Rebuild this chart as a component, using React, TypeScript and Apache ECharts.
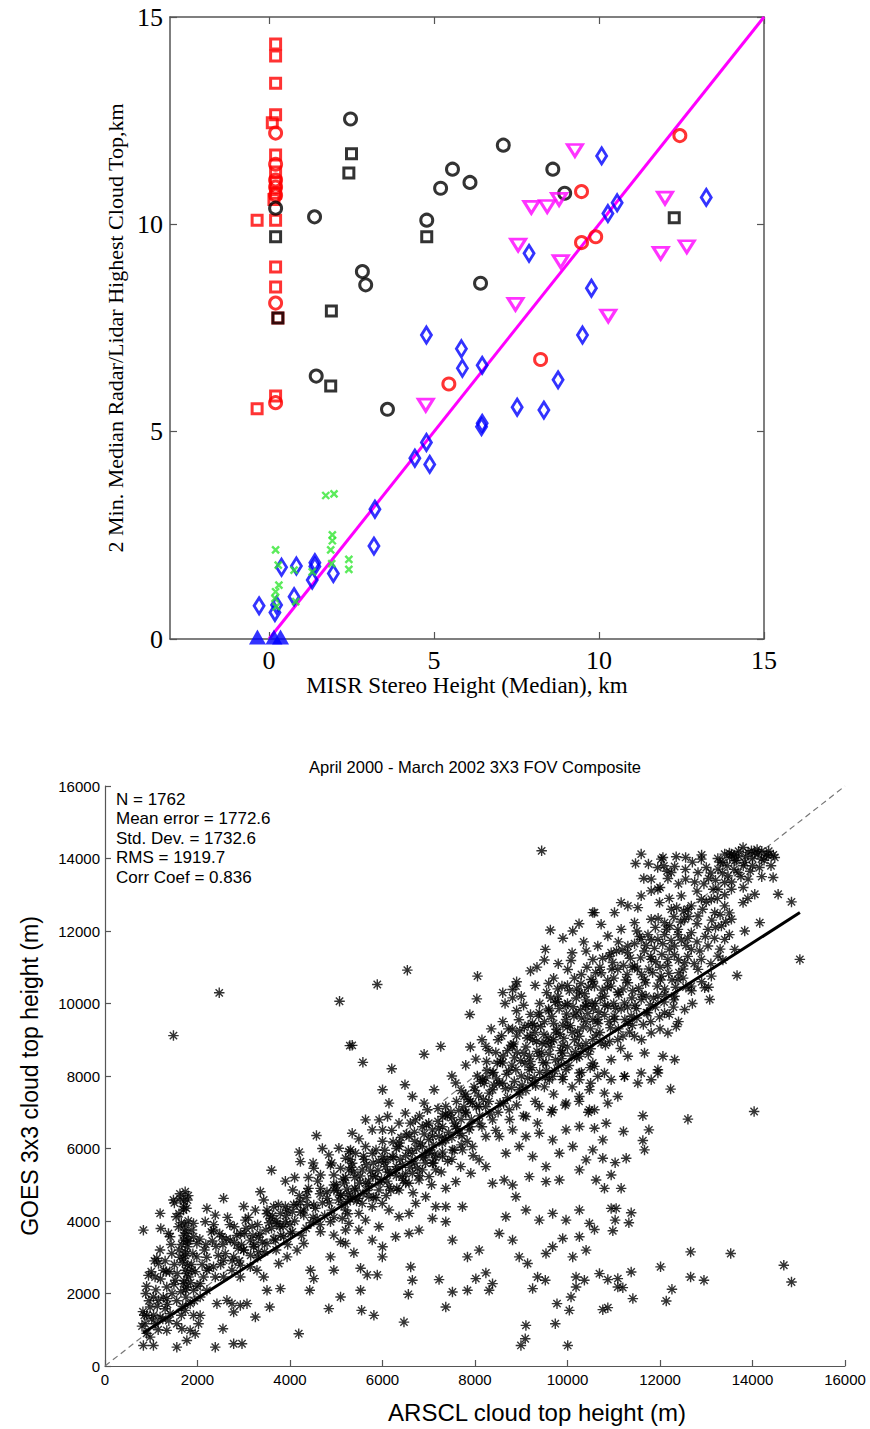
import React, { useEffect, useRef } from "react";
import * as echarts from "echarts";

// ---------- Top panel data (km) ----------
const redSquares = [[0.2,14.35],[0.2,14.06],[0.2,13.4],[0.2,12.64],[0.1,12.45],[0.2,11.67],[0.2,11.26],[0.2,11.0],[0.2,10.75],[0.15,10.6],[-0.36,10.1],[0.2,10.1],[0.2,8.97],[0.2,8.49],[0.27,7.74],[-0.36,5.55],[0.2,5.86]];
const redCircles = [[0.2,12.2],[0.2,11.45],[0.2,11.07],[0.2,10.9],[0.2,10.7],[0.2,8.1],[0.2,5.7],[12.45,12.14],[9.47,10.79],[9.47,9.56],[9.9,9.7],[8.23,6.74],[5.45,6.15]];
const blackCircles = [[2.47,12.54],[5.56,11.33],[5.2,10.87],[6.09,11.01],[4.78,10.1],[1.38,10.18],[0.2,10.39],[2.83,8.86],[2.93,8.54],[6.41,8.58],[7.1,11.91],[8.6,11.33],[8.96,10.75],[1.43,6.34],[3.59,5.54]];
const blackSquares = [[2.5,11.7],[2.42,11.24],[0.2,9.7],[4.78,9.7],[1.89,7.91],[0.27,7.74],[1.87,6.1],[12.28,10.16]];
const magentaTriangles = [[9.27,11.78],[7.95,10.41],[8.43,10.43],[8.79,10.6],[7.55,9.5],[8.84,9.1],[7.47,8.07],[10.28,7.79],[12.0,10.63],[11.87,9.3],[12.66,9.46],[4.75,5.64]];
const blueDiamonds = [[10.08,11.65],[10.55,10.52],[10.27,10.26],[13.25,10.65],[7.88,9.3],[9.77,8.46],[9.5,7.33],[4.77,7.33],[5.83,7.0],[5.86,6.53],[6.46,6.6],[8.76,6.25],[7.52,5.59],[8.33,5.52],[6.46,5.2],[6.44,5.12],[4.77,4.74],[4.42,4.36],[4.87,4.21],[3.21,3.13],[3.18,2.24],[1.39,1.84],[0.83,1.76],[0.38,1.73],[1.31,1.42],[1.95,1.58],[0.76,1.02],[-0.3,0.8],[0.23,0.82],[0.18,0.64],[1.39,1.75]];
const blueTriangles = [[-0.35,0.05],[0.15,0.05],[0.35,0.05]];
const greenCrosses = [[0.2,2.15],[0.28,1.78],[0.76,1.66],[0.3,1.3],[0.2,1.14],[0.18,0.98],[0.81,0.9],[1.72,3.46],[1.97,3.5],[1.92,2.51],[1.92,2.37],[1.87,2.15],[1.9,1.82],[1.31,1.62],[2.42,1.92],[2.42,1.68],[0.22,0.78]];
const oneToOneTop = [[0,0],[15,15]];
const topXTicks = [0,5,10,15];

// ---------- Bottom panel data (m) ----------
const goesPoints = [
[830,3748],[1192,4210],[1206,3795],[1372,3657],[1408,3565],[1120,2965],[1156,2827],[1083,2456],[1264,2640],[1444,3103],[1517,2365],[1336,2180],[1047,1903],[1156,1811],[1336,1858],[1300,1580],[975,1626],[903,1396],[867,1166],[1083,1166],[1192,1350],[1408,1442],[1553,1166],[1336,982],[1661,1028],[1842,982],[1553,520],[1770,705],[830,567],[1047,567],[975,797],
[1734,3886],[1770,3657],[1697,3473],[1784,3288],[1734,3150],[1697,2965],[1784,2781],[1734,2643],[1806,2456],[1697,2272],[1625,4625],[1734,4808],[1480,4579],[1784,4579],[1697,4301],[1538,4117],[1914,3565],[1986,3380],[1914,3934],[1589,3840],[1986,3010],[1878,2643],[2058,2272],[1914,2088],[1842,1720],[1734,1535],[1914,1396],[2022,1166],[1950,890],[2058,1396],
[2203,4348],[2384,4163],[2167,3980],[2564,4625],[2347,3750],[2528,3565],[2709,3473],[2795,3842],[3034,4025],[2926,3657],[3142,3473],[3359,4808],[3431,4579],[3503,4301],[3648,4394],[3792,4210],[3937,4301],[3576,4071],[3720,3934],[3901,3980],[4059,4854],[3214,3288],[2998,3196],[3322,3150],[3503,3380],[3684,3473],[3865,3565],[4009,3657],[2782,3010],[2564,2919],[2347,2735],[2203,2643],[2131,2456],[2384,2456],[2564,2456],[2745,2643],[2926,2781],[3142,2735],[2926,2456],[2058,1903],[2203,2088],[1770,2180],[2420,1720],[2636,1811],[2745,1720],[2926,1672],[3070,1720],[2782,1488],[3286,2643],[3431,2456],[3792,2134],[3503,2088],[3251,1350],[3560,1626],[2550,1029],[2384,520],[2782,614],[2962,614],[4189,891],[3756,2827],[3937,3010],[4153,3196],[4298,3380],[4427,2088],[4514,2410],[4442,2643],[4839,1582],[4948,2643],[5093,1903],[4875,3010],
[4225,5639],[4514,5454],[4659,5270],[4875,5546],[4948,5270],[5093,5454],[5201,5731],[5273,5915],[4948,4993],[4659,4901],[4370,4808],[4225,4530],[4514,4440],[4803,4625],[5093,4717],[5237,4530],[4298,4163],[4587,4071],[4875,3980],[5129,4071],[4659,3703],[4948,3611],[5201,3750],[5093,3428],[4839,5824],[5057,6008],[4572,6357],
[6486,7759],[6646,7436],[5489,6265],[6001,6514],[6109,6883],[5928,6791],[6493,6975],[6710,6791],[6970,7067],[7296,6883],[7584,7805],[7116,7621],[6900,7251],[7368,7159],[7765,7436],[7945,7251],[8162,7897],[8306,7528],[8523,7805],[8090,6699],[7873,6514],[7657,6422],[7368,6237],[7512,5962],[7296,5778],[7080,5593],[6862,5409],[6646,5316],[6429,5224],[6284,5409],[6067,5500],[5850,5224],[5633,5040],[5417,4856],[5345,5593],[5273,5409],[5561,5409],[5778,5870],[5633,6054],[5417,5870],[5309,5962],[5345,4670],[5561,4487],[5778,4395],[5995,4487],[6140,4302],[6357,4118],[6574,4210],[5633,4025],[5922,3841],[5489,3749],[5778,3473],[5381,3123],[5996,3010],[6284,3565],[6574,3657],[6790,3749],[6718,4487],[6934,4670],[7152,4395],[7368,4395],[7080,4071],[7368,3980],[7729,4395],[7584,5086],[7368,4901],[7909,5316],[8090,5685],[8235,5500],[8379,5040],[8632,5132],[8812,4994],[8884,4670],[9173,5224],[9535,5086],[9824,5132],[8667,5870],[8956,6054],[9245,5778],[9535,5500],[9824,5870],[10113,6054],[10257,5409],[10402,5685],[10547,5962],[9101,6330],[9390,6422],[9679,6237],[9968,6514],[10257,6606],[8812,6514],[8523,6330],[8379,6791],[8740,7067],[9101,6883],[9390,7159],[9679,7067],[9968,7251],[10257,7436],[10474,7067],[8956,7621],[9245,7805],[9607,7897],[9896,7989],[10257,7897],[10474,7621],
[8523,3657],[7512,3473],[7837,3010],[8090,3196],[8812,3473],[8956,3010],[9137,2827],[9535,3103],[9679,3288],[9896,3519],[8667,4118],[9101,4302],[9390,4025],[9679,4210],[9968,4025],[10257,4302],[10474,3934],[10257,3565],[10402,3196],[10113,3010],[7223,2384],[6610,2733],[6646,2365],[6559,1978],[7512,2041],[7368,1626],[6464,1211],[5548,1535],[5814,1397],[5526,2088],[5526,2697],[5670,2513],[5887,2513],[7837,2088],[8018,2410],[8235,2568],[8379,2272],[8306,2088],[9101,1120],[9086,752],[8993,567],[9736,1167],[10005,567],[10040,1535],[9773,1720],[9246,2135],[9354,2456],[9520,2365],[10185,2456],[10365,2365],[10185,2180],[10076,1903],[6001,3288],[5200,3380],
[5489,4210],[5200,4302],[5273,3934],[5706,4670],[5922,4856],[6140,4948],[6357,4856],[6574,5040],[6790,5132],[7007,5224],[7152,5409],[7007,5870],[7224,6330],[7584,6606],[7801,6975],[8090,7159],[8235,6330],[7729,5962],[7945,6054],[6574,6330],[6357,6054],[6212,5778],[6001,5778],[6646,5870],[6862,6054],[7080,6514],[6357,6699],[5778,6514],[5633,6791],[5345,6422],[6140,7251],[6001,7621],
[9441,14212],[6537,10920],[5887,10525],[8054,10755],[8040,10128],[7888,9695],[8812,10386],[8884,10478],[8812,10156],[9340,11003],[9521,11492],[9629,12026],[10113,11999],[10547,12507],[5345,8846],[5576,8376],[7260,8816],[8235,8816],[8018,8466],[8575,9111],[8812,9295],[9065,9341],[9281,9387],[8812,8816],[9593,10552],[9787,10404],[9736,10035],[10005,10939],[10076,11188],[10402,11446],[10547,11215],[10510,10662],[10257,10294],[10402,9926],[10185,9741],[9968,9557],[9751,9188],[9535,8911],[9390,8543],[9173,8174],[9535,8359],[9896,8636],[10257,9096],[10547,9557],[10547,9004],[10257,8543],[9968,8174],[9679,7989],[10257,8082],[10547,8359],[8595,8359],[8884,8174],[8379,8082],[8235,7943],
[11593,14121],[11471,13863],[12063,14029],[12085,13798],[12316,13780],[12554,14029],[12554,13430],[12171,13448],[12894,13982],[13002,13752],[12822,13614],[13399,14121],[13507,14029],[13616,13937],[13544,14121],[13688,14075],[13796,14305],[13905,14167],[13977,14213],[14121,14121],[14338,14075],[14482,14029],[14193,13982],[13832,13890],[13363,13890],[13255,13706],[13471,13522],[13688,13614],[13905,13430],[13399,13338],[14446,13476],[14554,13015],[14843,12803],[15024,11216],[13666,10774],[13075,10110],[12966,10433],[11810,13107],[11160,12784],[10583,12507],[10727,12184],[11016,12507],[11521,12646],[11990,12784],[13796,12784],[14049,13015],[14157,12231],[13832,12000],[13544,13153],[13255,13153],[13110,12876],[12316,8450],[12063,8543],[12352,9365],[12894,12876],[12677,12692],[12460,12969],[12244,12600],[12533,12323],[12822,12415],[13183,12507],[13399,12692],[13544,12323],[13327,12138],[13038,12046],[12677,11954],[12388,12046],[12099,12231],[11810,12323],[11449,12231],[11160,12046],[10872,11862],[10655,11585],[10944,11401],[11305,11585],[11593,11770],[11955,11770],[12316,11585],[12677,11493],[13038,11585],[13399,11770],[13616,11493],[13255,11308],[12894,11216],[12533,11124],[12171,11216],[11810,11216],[11449,11032],[11088,10940],[10727,10847],[10583,10479],[10944,10479],[11305,10571],[11665,10663],[12027,10755],[12388,10663],[12677,10479],[12316,10202],[11955,10202],[11593,10110],[11232,10017],[10872,9925],[10655,9557],[11016,9557],[11377,9649],[11738,9741],[12099,9741],[12533,9833],[12171,9188],[11810,9188],[11449,9096],[11088,9004],[10727,8911],[10944,8450],[11305,8543],[11665,8636],[11955,8174],[11593,8082],[11232,7989],[10799,8082],[10583,8266],[12822,10940],[13110,10755],[12027,13982],[12244,13614],[11810,13430],[11955,13153],[11593,12969],[11305,12692],
[12229,7639],[12604,6810],[14035,7021],[11629,6903],[11760,6514],[11210,6468],[11629,6219],[11665,5961],[10763,6237],[10835,6698],[10583,6560],[10763,5731],[11269,5731],[11030,5610],[10944,5270],[10618,5131],[10799,4901],[11160,4901],[10944,4348],[11052,4348],[11377,4226],[11327,3950],[11030,4025],[10980,3729],[10583,3767],[12662,3148],[13529,3103],[14677,2779],[14843,2318],[12012,2735],[12662,2456],[12951,2365],[12258,2116],[12135,1792],[11413,1859],[11377,2595],[10691,2549],[10872,2383],[11088,2411],[11088,2180],[11196,2162],[10763,1554],[10872,1610],[10655,7989],[10944,7897],[11232,7989],[11521,7805],[10799,7528],[11088,7436],[11810,7897],[11955,8082],[10583,7067],[10872,7251],
[2470,10295],[1480,9114],[5071,10063],[5294,8838],[6200,8200],[6900,8600],[7500,8000],[7800,8300],[3600,5400],[4200,5900],[4700,6000],[3900,5100],[4400,5200],
[8100,6900],[8300,7300],[8500,7000],[8700,7400],[8900,7200],[9100,7600],[9300,7300],[9500,7700],[9700,7500],[9900,7900],[10100,7700],[10300,8100],[10500,7800],[8200,7800],[8400,8100],[8600,7800],[8800,8300],[9000,8000],[9200,8400],[9400,8100],[9600,8600],[9800,8300],[10000,8800],[10200,8500],[10400,8900],[8300,8700],[8500,9000],[8700,8700],[8900,9100],[9100,8800],[9300,9200],[9500,9500],[9700,9000],[9900,9400],[10100,9200],[10300,9600],[10500,9300],[8600,9500],[8900,9800],[9200,9700],[9400,10000],[9600,9800],[9800,10200],[10000,10000],[10200,10400],[10400,10100],[9000,10200],[9300,10500],[9700,10700],[10000,10500],[10300,10800],[8000,7600],[7800,7000],[8150,6600],[8450,6500],[8750,6800],[9050,6900],[9350,6700],[9650,7000],[9950,7200],[10250,7300],[10450,7000],[8050,8000],[7700,7600],[7900,8800],[8350,9300],[8150,9000],[8650,10000],[9150,9400],[9450,8900],[9850,8700],[10150,9000],[10450,8600],[10550,10600],[10400,9500],[9550,10300],[9250,9000],[8850,8500],[8550,8400],[8250,8400],
[10700,9200],[10900,9500],[11100,9300],[11300,9900],[11500,9600],[11700,10200],[11900,9900],[12100,10400],[12300,10100],[12500,10700],[10800,10200],[11000,10700],[11200,10400],[11400,11000],[11600,10800],[11800,11300],[12000,11000],[12200,11500],[12400,11200],[12600,11800],[10700,11000],[10900,11300],[11100,11700],[11300,11400],[11500,12000],[11700,11600],[11900,12100],[12100,11900],[12300,12400],[10600,10000],[10800,9700],[11000,10000],[11200,9100],[11400,9400],[11600,9000],[11800,9500],[12000,9300],[12200,9700],[12400,9500],[12700,10000],[12900,10600],[13100,11100],[13300,11500],[13500,11900],[13200,12100],[12800,11700],[12600,11300],
[12600,12600],[12800,13100],[13000,12800],[13200,13400],[13400,13000],[13600,13700],[13800,13200],[14000,13800],[14200,13500],[14300,14100],[13100,13600],[12700,13900],[12900,14100],[13300,13900],[13700,14200],[14100,14250],[14400,13800],[13900,12900],[13500,12500],[12400,13300],[12200,12900],[12000,13200],
[6100,5700],[6300,6000],[6500,5800],[6700,6200],[6900,6400],[7100,6100],[7300,6600],[7500,6300],[7700,6800],[7900,6600],[6200,6500],[6400,6300],[6600,6700],[6800,6900],[7000,6700],[7200,7100],[7400,6900],[7600,7300],[7800,7500],[6000,6200],[5800,5600],[5600,5700],[5400,5200],[5700,5100],[5900,5400],[6100,5100],[6300,5500],[6500,5300],[6700,5600],[6900,5800],[7100,5600],[7300,5900],[7500,5700],[7700,6100],
[4100,4000],[4300,4300],[4500,4100],[4700,4500],[4900,4300],[5100,4700],[5300,4600],[4200,4700],[4400,4900],[4600,5100],[4800,4800],[5000,5000],[5200,5200],[4050,3700],[4350,3800],[4650,3900],[4950,4100],[5250,4200],[4100,5200],[4500,5600],[4900,5600],[5300,5700],[5400,4900],
[2200,3000],[2400,3300],[2600,3100],[2800,3400],[3000,3200],[3200,3600],[3400,3400],[3600,3800],[3800,3600],[4000,3900],[2300,3700],[2700,3900],[3100,4100],[3500,4200],[3900,4400],[2500,2800],[2900,2900],[3300,3000],[3700,3200],[2100,2800],[3300,3900],[3700,4000],
[900,2200],[1000,2600],[1100,2100],[1200,2400],[1300,2900],[1400,2600],[1500,2800],[1600,3200],[1700,3600],[1800,4000],[1900,3100],[950,1800],[1050,1400],[1150,1000],[1250,1300],[1350,1700],[1450,2000],[1550,1800],[1650,1400],[1750,1900],[1850,2300],[1950,2600],[850,1400],[800,1100],[900,900],[1700,4400],[1600,4200],[1800,4700],[1500,4500],
[8080,7450],[8230,7150],[8380,7620],[8470,7920],[8620,7240],[8680,8050],[8790,7680],[8830,8880],[8960,7480],[8990,8420],[9060,8620],[9140,7940],[9190,9120],[9230,8230],[9310,7730],[9340,8680],[9420,9360],[9470,8370],[9520,7960],[9580,9060],[9630,8800],[9660,9640],[9720,8140],[9760,9290],[9820,9860],[9870,8480],[9920,9040],[9980,9710],[10030,8290],[10060,9390],[10120,9910],[10170,8670],[10220,9240],[10280,9830],[10330,8760],[10370,10270],[10440,9720],[10490,8230],[10530,10000],[8450,8650],[8720,9300],[8950,9550],[9050,9950],[9380,9650],[9640,10150],[9880,10480],[10150,10700],[10420,11000],[8600,10300],[8900,10600],[9200,10900],[9500,11200],[9800,11100],[10100,11400],[10350,11700],[9900,11800],[10250,12200],
[10620,9130],[10680,9760],[10750,10370],[10820,8850],[10870,10640],[10930,9330],[10980,11130],[11040,9870],[11090,10310],[11150,8760],[11180,11480],[11240,9560],[11290,10800],[11340,9210],[11390,10150],[11450,11650],[11490,9860],[11540,10420],[11580,11260],[11640,9420],[11690,10570],[11740,11900],[11790,9960],[11840,10850],[11880,11520],[11940,10480],[11990,9630],[12040,11350],[12090,10040],[12140,12050],[12190,10830],[12240,11740],[12290,9900],[12340,10450],[12390,11900],[12450,12250],[12500,10950],[12560,11600],[12620,12400],[12680,10350],[12740,11100],[12800,12200],[12860,11450],[12920,12600],[12980,11850],[13050,10450],[13120,12300],[13180,11800],[13240,12900],[13300,12450],[13360,11200],[13420,12250],
[13050,13450],[13150,13150],[13250,14000],[13350,13600],[13450,13800],[13550,13350],[13650,13950],[13750,13500],[13850,14050],[13950,13650],[14050,14150],[14150,13750],[14250,13950],[14350,14200],[14450,14100],[14000,14000],[13800,13800],[13600,14100],[14200,14200],[13500,14150],[12950,13300],[12750,13350],[12550,13700],[12350,14050],[12150,13650],[11950,13750],[11750,13850],[11650,13450],
[5050,4580],[5150,5160],[5230,4880],[5330,5480],[5470,4620],[5520,5240],[5590,5790],[5660,4840],[5740,5380],[5810,4650],[5860,5960],[5950,5060],[6030,5620],[6080,4700],[6160,5340],[6230,6180],[6310,4900],[6380,5700],[6450,5120],[6520,6400],[6590,5480],[6660,4780],[6730,6000],[6790,5250],[6860,6600],[6930,5600],[7000,6250],[7060,5000],[7130,5850],[7200,6750],[7270,5350],[7340,6300],[7410,5650],[7480,7000],[7550,5950],[7620,6550],[7690,5500],[7760,7150],[7830,6200],[7900,7300],[7960,5800],
[2050,3500],[2150,3200],[2250,2700],[2350,3900],[2450,3050],[2550,3350],[2650,4100],[2750,2900],[2850,3600],[2950,3350],[3050,3800],[3150,3050],[3250,4300],[3350,3650],[3450,3150],[3550,3950],[3650,3500],[3750,4450],[3850,3850],[3950,3350],[4050,4250],[4150,4450],[4250,3600],[4350,4650],[4450,3950],[4550,4350],[4650,4750],[4750,4150],[4850,4500],[4950,4850],
[820,1500],[880,2000],[940,2500],[1010,1300],[1070,2900],[1130,1650],[1190,3200],[1260,1900],[1320,2600],[1380,1250],[1430,3350],[1490,2250],[1560,2550],[1620,3000],[1680,1650],[1740,2100],[1810,3450],[1870,2800],[1930,1800],[1990,2200],
[7550,6700],[7650,7050],[7720,6350],[7850,7350],[7920,6800],[7980,7700],[8030,7150],[8120,7850],[8180,7350],[8260,8150],[8320,6950],[8410,7750],[8480,8350],[8540,7250],[8610,8550],[8660,7650],[8730,8150],[8780,8850],[8850,7850],[8910,8650],[8970,9250],[9020,7750],[9080,8350],[9130,9050],[9180,8550],[9240,9450],[9280,7950],[9330,8950],[9390,9750],[9440,8650],[9490,9150],[9550,8150],[9590,9850],[9650,8950],[9700,9450],[9740,8450],[9790,10050],[9840,9150],[9890,8850],[9950,9950],[10000,9350],[10040,10350],[10090,8550],[10140,9650],[10190,10150],[10240,8850],[10290,10550],[10340,9350],[10390,9950],[10450,10450],[10500,8750],[10560,9850],[10610,10850],[10660,9450],[10710,10150],[10760,11250],[10810,9950],[10860,10450],[10910,8950],[10960,10950],[11010,9650],[11060,11450],[11110,10250],[11160,9850],[11210,11050],[11260,10650],[11310,9450],[11360,11250],[11410,10350],[11460,9950],[11510,10950],[11560,11850],[11610,10250],[11660,11450],[11710,9750],[11760,10950],[11810,11750],[11860,10150],[11910,11150],[11960,12350],[12010,10650],[12060,11650],[12110,10250],[12160,11050],[12210,12150],[12260,10650],[12310,11350],[12360,12650],[12410,10850],[12460,11750],[12510,12550],[12560,10450],
[5020,4850],[5120,4450],[5180,5050],[5260,4750],[5380,5350],[5440,4550],[5500,5050],[5580,4750],[5650,5550],[5720,4950],[5790,5250],[5860,4650],[5920,5650],[5980,5150],[6050,5950],[6110,5350],[6180,4850],[6240,5750],[6300,5250],[6370,6150],[6430,5550],[6500,5050],[6560,5950],[6620,5650],[6690,6450],[6750,5450],[6820,6150],[6880,5750],[6950,6650],[7010,5950],[7080,6350],[7150,5750],[7220,6550],[7290,6150],[7360,6950],[7430,6450],[7500,6850],
[1620,4750],[1700,4550],[1760,4350],[1650,3950],[1720,3750],[1780,3450],[1660,3350],[1740,3050],[1680,2850],[1770,2550],[1710,2350],[1640,2050],[2480,3650],[2620,3500],[2880,3250],[3020,3650],[3180,3850],[3320,3550],[3480,3750],[3620,4150],[3780,3850],[3920,4150],[4080,4450],[4230,4250],[4380,4450],[3000,4400],[3220,3350],[2320,3450],[2180,3350],[1880,3750]
];
const regressionLine = [[823,909],[15025,12508]];
const oneToOneBottom = [[0,0],[16000,16000]];
const statsLines = ["N = 1762","Mean error = 1772.6","Std. Dev. = 1732.6","RMS = 1919.7","Corr Coef = 0.836"];

const SERIF = "'Liberation Serif', 'Times New Roman', serif";
const SANS = "'Liberation Sans', Arial, sans-serif";
const ASTERISK = "path://M5 0L5 10M0 5L10 5M1.5 1.5L8.5 8.5M8.5 1.5L1.5 8.5";
const CROSS = "path://M0 0L10 10M10 0L0 10";

function hollow(data: number[][], symbol: string, size: any, color: string, rotate = 0) {
  return {
    type: "scatter", xAxisIndex: 0, yAxisIndex: 0, data, symbol, symbolSize: size, symbolRotate: rotate,
    itemStyle: { color: "transparent", borderColor: color, borderWidth: 3 },
    emphasis: { disabled: true }, z: 3,
  };
}

export default function App() {
  const ref = useRef<HTMLDivElement>(null);
  useEffect(() => {
    const chart = echarts.init(ref.current!, null, { renderer: "svg" });
    const boxLine = { show: true, onZero: false, lineStyle: { color: "#555", width: 1.5 } };
    const topTick = { show: true, inside: true, length: 7, lineStyle: { color: "#555", width: 1.2 } };
    const plain = (v: number) => String(v);
    const option: any = {
      animation: false,
      backgroundColor: "#fff",
      grid: [
        { left: 170, top: 17, width: 594, height: 622, outerBoundsMode: "none", containLabel: false },
        { left: 105, top: 786, width: 740, height: 580, outerBoundsMode: "none", containLabel: false },
      ],
      xAxis: [
        {
          gridIndex: 0, type: "value", min: -3, max: 15, position: "bottom",
          axisLine: boxLine, axisTick: { ...topTick, customValues: topXTicks },
          axisLabel: { customValues: topXTicks, fontFamily: SERIF, fontSize: 26, color: "#000", margin: 8 },
          splitLine: { show: false },
          name: "MISR Stereo Height (Median), km", nameLocation: "middle", nameGap: 34,
          nameTextStyle: { fontFamily: SERIF, fontSize: 23, color: "#000" },
        },
        {
          gridIndex: 0, type: "value", min: -3, max: 15, position: "top",
          axisLine: boxLine, axisTick: { ...topTick, customValues: topXTicks },
          axisLabel: { show: false }, splitLine: { show: false },
        },
        {
          gridIndex: 1, type: "value", min: 0, max: 16000, interval: 2000, position: "bottom",
          axisLine: { show: true, onZero: false, lineStyle: { color: "#555", width: 1.2 } },
          axisTick: { show: true, inside: true, length: 6, lineStyle: { color: "#555", width: 1.2 } },
          axisLabel: { fontFamily: SANS, fontSize: 15, color: "#000", margin: 6, formatter: plain },
          splitLine: { show: false },
        },
      ],
      yAxis: [
        {
          gridIndex: 0, type: "value", min: 0, max: 15, interval: 5, position: "left",
          axisLine: boxLine, axisTick: topTick,
          axisLabel: { fontFamily: SERIF, fontSize: 26, color: "#000", margin: 7 },
          splitLine: { show: false },
          name: "2 Min. Median Radar/Lidar Highest Cloud Top,km", nameLocation: "middle", nameGap: 44,
          nameTextStyle: { fontFamily: SERIF, fontSize: 22, color: "#000" },
        },
        {
          gridIndex: 0, type: "value", min: 0, max: 15, interval: 5, position: "right",
          axisLine: boxLine, axisTick: topTick, axisLabel: { show: false }, splitLine: { show: false },
        },
        {
          gridIndex: 1, type: "value", min: 0, max: 16000, interval: 2000, position: "left",
          axisLine: { show: true, onZero: false, lineStyle: { color: "#555", width: 1.2 } },
          axisTick: { show: true, inside: true, length: 6, lineStyle: { color: "#555", width: 1.2 } },
          axisLabel: { fontFamily: SANS, fontSize: 15, color: "#000", margin: 5, formatter: plain },
          splitLine: { show: false },
          name: "GOES 3x3 cloud top height (m)", nameLocation: "middle", nameGap: 64,
          nameTextStyle: { fontFamily: SANS, fontSize: 23, color: "#000" },
        },
      ],
      series: [
        {
          type: "line", xAxisIndex: 0, yAxisIndex: 0, data: oneToOneTop, symbol: "none",
          lineStyle: { color: "#ff00ff", width: 3 }, z: 2, silent: true,
        },
        hollow(redSquares, "rect", 10, "#ff0000"),
        hollow(redCircles, "circle", 12, "#ff0000"),
        hollow(blackCircles, "circle", 12, "#000000"),
        hollow(blackSquares, "rect", 10, "#000000"),
        hollow(magentaTriangles, "triangle", [15, 12], "#ff00ff", 180),
        hollow(blueDiamonds, "diamond", [10, 16], "#0000ff"),
        {
          type: "scatter", xAxisIndex: 0, yAxisIndex: 0, data: blueTriangles, symbol: "triangle", symbolSize: [17, 15],
          itemStyle: { color: "#0000ff" }, z: 4,
        },
        {
          type: "scatter", xAxisIndex: 0, yAxisIndex: 0, data: greenCrosses, symbol: CROSS, symbolSize: 7,
          itemStyle: { color: "transparent", borderColor: "#33e633", borderWidth: 2.4 }, z: 4,
        },
        {
          type: "line", xAxisIndex: 2, yAxisIndex: 2, data: oneToOneBottom, symbol: "none",
          lineStyle: { color: "#777", width: 1.2, type: [6, 4] }, z: 1, silent: true,
        },
        {
          type: "scatter", xAxisIndex: 2, yAxisIndex: 2, data: goesPoints, symbol: ASTERISK, symbolSize: 10.5,
          itemStyle: { color: "transparent", borderColor: "#000", borderWidth: 1.4 }, z: 2, silent: true,
        },
        {
          type: "line", xAxisIndex: 2, yAxisIndex: 2, data: regressionLine, symbol: "none",
          lineStyle: { color: "#000", width: 3 }, z: 3, silent: true,
        },
      ],
      graphic: [
        {
          type: "text", x: 475, y: 767,
          style: { text: "April 2000 - March 2002 3X3 FOV Composite", fontFamily: SANS, fontSize: 16.5, fill: "#000", align: "center", verticalAlign: "middle" },
        },
        ...statsLines.map((t, i) => ({
          type: "text", x: 116, y: 799 + i * 19.5,
          style: { text: t, fontFamily: SANS, fontSize: 17, fill: "#000", align: "left", verticalAlign: "middle" },
        })),
        {
          type: "text", x: 537, y: 1412,
          style: { text: "ARSCL cloud top height (m)", fontFamily: SANS, fontSize: 24, fill: "#000", align: "center", verticalAlign: "middle" },
        },
      ],
    };
    chart.setOption(option);
    return () => chart.dispose();
  }, []);
  return <div ref={ref} style={{ position: "absolute", left: 0, top: 0, width: 870, height: 1429, background: "#fff" }} />;
}
